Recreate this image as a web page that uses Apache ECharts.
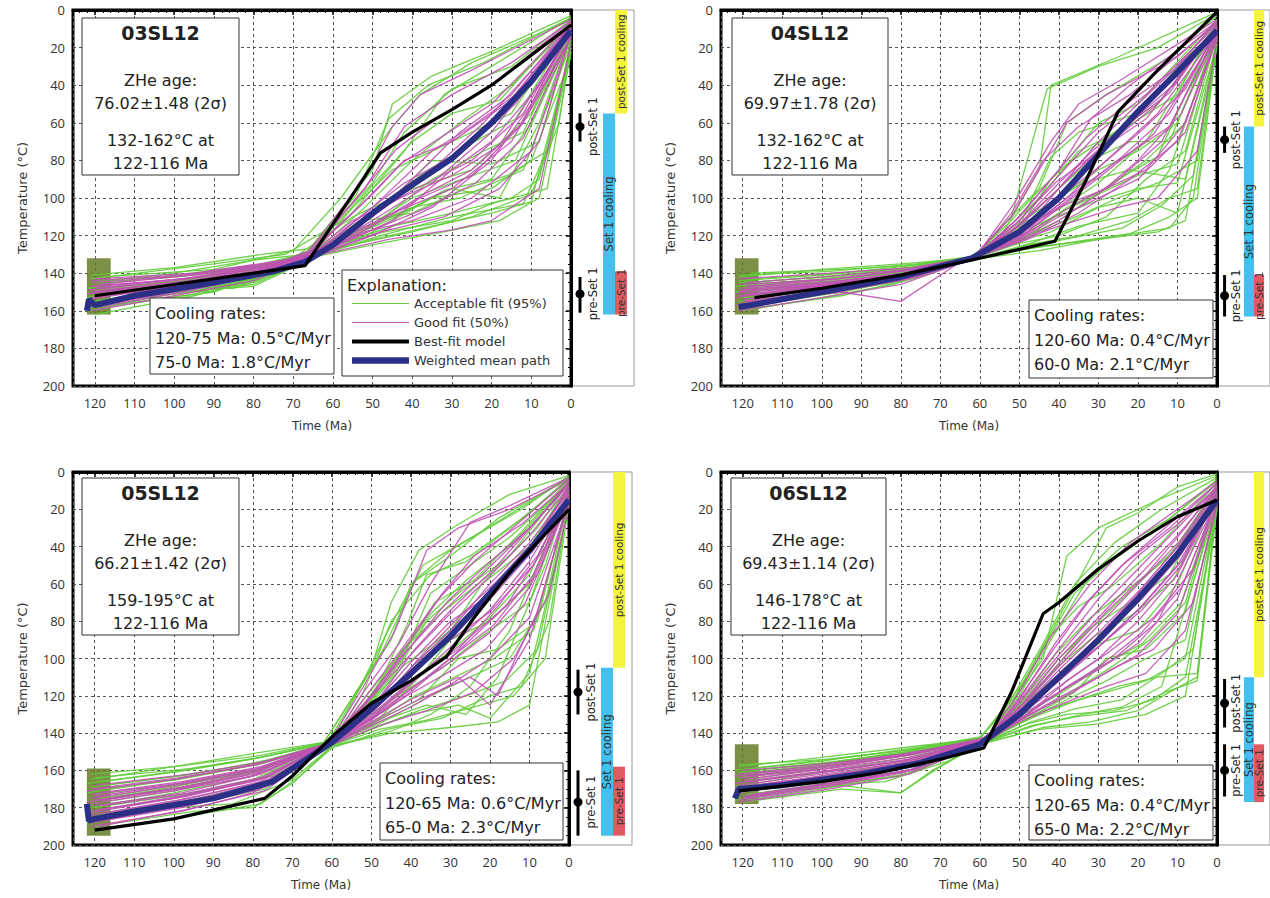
<!DOCTYPE html>
<html><head><meta charset="utf-8">
<script src="https://cdn.jsdelivr.net/npm/echarts@6/dist/echarts.min.js"></script>
<style>html,body{margin:0;padding:0;background:#fff}#c{width:1270px;height:898px}</style>
</head><body><div id="c"></div>
<script>
// ---------- axis ticks ----------
const timeTicks = [0,10,20,30,40,50,60,70,80,90,100,110,120];
const tempTicks = [0,20,40,60,80,100,120,140,160,180,200];
const timeMax = 125.5;

// ---------- panel texts ----------
const sampleNames = ['03SL12','04SL12','05SL12','06SL12'];
const zheAges = ['76.02±1.48 (2σ)','69.97±1.78 (2σ)','66.21±1.42 (2σ)','69.43±1.14 (2σ)'];
const constraintTemps = ['132-162°C at','132-162°C at','159-195°C at','146-178°C at'];
const constraintTimes = ['122-116 Ma','122-116 Ma','122-116 Ma','122-116 Ma'];
const coolingEarly = ['120-75 Ma: 0.5°C/Myr','120-60 Ma: 0.4°C/Myr','120-65 Ma: 0.6°C/Myr','120-65 Ma: 0.4°C/Myr'];
const coolingLate = ['75-0 Ma: 1.8°C/Myr','60-0 Ma: 2.1°C/Myr','65-0 Ma: 2.3°C/Myr','65-0 Ma: 2.2°C/Myr'];
const legendNames = ['Acceptable fit (95%)','Good fit (50%)','Best-fit model','Weighted mean path'];

// ---------- constraint boxes [tOld, tYoung, Tlow, Thigh] ----------
const box03 = [122,116,132,162];
const box04 = [122,116,132,162];
const box05 = [122,116,159,195];
const box06 = [122,116,146,178];

// ---------- 03SL12 ----------
const acc03 = [
 [[121,145],[100,140],[80,133],[67,130],[50,85],[45,50],[35,35],[20,22],[0,3]],
 [[120,158],[90,150],[75,138],[66,130],[45,115],[30,108],[15,100],[8,90],[0,18]],
 [[119,150],[95,143],[70,132],[55,110],[40,95],[25,85],[10,55],[0,10]],
 [[121,160],[100,150],[80,147],[65,132],[50,118],[35,100],[20,95],[10,80],[0,25]],
 [[118,142],[90,138],[70,128],[58,100],[45,62],[38,45],[25,28],[0,5]],
 [[120,152],[105,147],[85,148],[68,133],[48,120],[30,110],[12,103],[5,70],[0,15]],
 [[122,148],[100,145],[80,140],[64,128],[52,105],[40,80],[28,60],[15,40],[0,8]],
 [[117,155],[95,147],[75,135],[62,125],[45,110],[30,95],[18,100],[8,60],[0,12]],
 [[121,143],[90,135],[72,130],[56,110],[42,75],[32,45],[20,30],[0,4]],
 [[120,162],[95,152],[78,142],[65,131],[50,122],[35,115],[20,108],[10,102],[0,20]],
 [[119,146],[100,141],[80,136],[66,129],[53,100],[40,70],[30,55],[18,48],[0,6]],
 [[121,157],[100,149],[82,146],[67,134],[50,115],[35,90],[22,75],[12,65],[0,12]],
 [[118,150],[95,145],[75,138],[63,127],[47,118],[30,112],[20,103],[6,95],[0,22]],
 [[122,153],[105,146],[85,140],[65,130],[55,105],[45,85],[30,70],[15,55],[0,8]],
 [[120,147],[90,150],[70,135],[60,122],[45,100],[35,80],[20,82],[8,70],[0,14]],
 [[121,141],[100,137],[78,130],[66,127],[50,92],[42,65],[30,42],[15,30],[0,5]],
 [[119,159],[95,151],[72,137],[62,128],[40,118],[25,110],[10,98],[3,60],[0,16]],
 [[120,155],[100,148],[80,145],[68,135],[55,118],[40,105],[28,100],[12,85],[0,18]],
 [[120,149],[98,144],[76,136],[66,131],[50,108],[38,88],[26,72],[14,58],[0,9]],
 [[121,156],[96,150],[74,140],[65,132],[52,112],[40,108],[28,96],[16,88],[6,75],[0,20]],
 [[119,144],[97,141],[77,135],[67,130],[54,98],[46,58],[36,40],[22,28],[0,4]],
 [[122,159],[100,151],[80,146],[64,131],[48,124],[32,118],[18,112],[8,100],[0,22]],
 [[118,152],[94,146],[73,137],[66,130],[51,115],[40,100],[30,92],[14,80],[0,14]],
 [[120,145],[99,142],[79,137],[67,132],[55,120],[44,110],[32,96],[20,90],[10,60],[0,10]]
];
const good03 = [
 [[121,150],[100,145],[80,139],[66,131],[50,112],[35,92],[20,65],[0,10]],
 [[120,156],[95,148],[75,137],[65,129],[45,108],[30,95],[15,70],[0,14]],
 [[119,146],[100,142],[80,136],[67,131],[52,95],[42,62],[30,45],[15,28],[0,6]],
 [[121,158],[100,150],[78,140],[64,130],[48,118],[32,110],[18,95],[8,70],[0,12]],
 [[120,143],[95,140],[72,133],[66,128],[52,90],[45,62],[38,45],[25,32],[0,5]],
 [[122,154],[100,147],[82,142],[67,133],[50,120],[35,105],[20,80],[10,50],[0,10]],
 [[118,149],[95,144],[75,138],[63,128],[47,105],[35,85],[22,60],[0,9]],
 [[121,160],[100,152],[80,144],[66,132],[50,115],[38,100],[25,88],[12,60],[0,15]],
 [[120,148],[90,141],[70,133],[62,126],[50,110],[40,90],[28,65],[15,45],[0,7]],
 [[119,152],[98,146],[78,139],[65,130],[52,118],[40,112],[25,100],[10,75],[0,13]],
 [[121,145],[95,141],[75,135],[66,129],[50,98],[42,80],[30,70],[15,48],[0,8]],
 [[120,157],[100,149],[80,141],[64,130],[45,112],[30,85],[20,70],[8,40],[0,11]],
 [[122,151],[100,146],[78,137],[67,132],[55,115],[40,96],[25,80],[12,55],[0,10]],
 [[118,155],[96,148],[76,140],[65,131],[46,122],[30,117],[20,112],[8,95],[0,18]],
 [[121,147],[98,143],[72,134],[63,127],[50,105],[35,75],[25,62],[12,42],[0,7]],
 [[120,150],[95,145],[78,138],[66,130],[55,112],[43,100],[30,88],[18,72],[0,12]],
 [[121,153],[99,147],[79,139],[66,131],[50,110],[38,90],[26,72],[14,50],[0,9]],
 [[120,147],[97,143],[77,137],[65,130],[52,108],[42,92],[30,78],[18,55],[0,8]],
 [[119,158],[98,150],[78,141],[66,132],[50,117],[36,105],[24,92],[12,68],[0,14]],
 [[122,149],[100,144],[80,138],[67,132],[53,104],[43,82],[33,68],[20,50],[0,7]],
 [[118,151],[96,145],[76,138],[64,129],[49,113],[37,98],[25,85],[13,62],[0,11]],
 [[121,144],[98,141],[78,136],[66,130],[54,100],[44,74],[34,58],[20,40],[0,6]]
];
const best03 = [[120,152],[100,146],[80,140],[67,136],[48,76],[40,65],[30,53],[20,40],[10,24],[0,8]];
const mean03 = [[122,160],[121.5,154],[120,157],[110,152],[90,145],[75,139],[67,134],[60,125],[50,108],[40,93],[30,79],[20,60],[10,38],[0,11]];
const marks03 = [[62,55,70,'post-Set 1'],[151,142,161,'pre-Set 1']];
const bars03 = [[0,55,'post-Set 1 cooling'],[55,162,'Set 1 cooling'],[139,162,'pre-Set 1']];

// ---------- 04SL12 ----------
const acc04 = [
 [[121,142],[100,138],[80,135],[62,132],[52,110],[43,42],[30,30],[15,20],[0,2]],
 [[120,158],[95,150],[75,140],[63,133],[45,126],[30,122],[15,118],[8,112],[0,18]],
 [[119,150],[90,145],[70,137],[60,130],[50,118],[40,100],[30,85],[20,75],[10,60],[0,10]],
 [[121,155],[100,148],[80,143],[62,133],[48,125],[35,120],[22,112],[12,100],[5,95],[0,15]],
 [[118,145],[95,141],[72,136],[61,131],[53,112],[45,95],[38,60],[28,45],[12,25],[0,3]],
 [[120,160],[100,153],[82,146],[64,134],[50,124],[38,105],[28,95],[18,80],[8,60],[0,12]],
 [[122,147],[100,143],[78,138],[62,132],[48,120],[40,112],[25,90],[15,78],[0,8]],
 [[117,152],[95,147],[75,139],[60,131],[50,123],[42,118],[30,105],[20,100],[10,108],[0,20]],
 [[121,141],[98,139],[76,135],[62,131],[55,120],[45,100],[35,75],[25,65],[10,45],[0,5]],
 [[120,156],[95,150],[75,141],[63,133],[45,128],[25,120],[12,116],[6,100],[0,16]],
 [[119,148],[95,144],[75,138],[61,131],[52,118],[40,95],[32,80],[22,70],[12,70],[0,9]],
 [[121,153],[100,147],[80,142],[62,132],[50,122],[38,112],[25,100],[15,92],[5,80],[0,14]],
 [[118,140],[95,138],[78,136],[63,132],[50,115],[42,78],[35,65],[20,55],[0,6]],
 [[120,150],[100,146],[80,141],[62,133],[47,124],[35,115],[20,108],[12,85],[0,10]],
 [[122,157],[100,151],[82,145],[64,134],[52,125],[40,120],[28,110],[18,90],[8,75],[0,13]],
 [[121,144],[100,141],[78,137],[61,131],[50,116],[42,90],[30,60],[20,50],[0,5]],
 [[119,159],[95,152],[75,142],[63,133],[48,127],[35,123],[22,119],[12,110],[5,100],[0,18]],
 [[120,146],[96,143],[76,138],[62,132],[54,118],[45,85],[42,40],[25,25],[0,1]],
 [[120,153],[97,148],[77,140],[62,132],[50,121],[40,108],[30,98],[20,88],[10,82],[0,12]],
 [[121,145],[98,142],[78,137],[61,131],[52,116],[44,105],[34,92],[22,85],[8,90],[0,16]],
 [[119,157],[96,150],[76,141],[63,133],[48,126],[36,121],[24,116],[14,104],[6,88],[0,14]],
 [[122,150],[99,145],[79,140],[62,132],[53,114],[46,98],[38,82],[28,68],[14,48],[0,7]],
 [[118,143],[96,140],[77,136],[61,131],[51,119],[41,110],[31,102],[20,95],[10,92],[0,18]],
 [[120,148],[98,144],[78,139],[62,132],[55,122],[48,112],[40,106],[30,92],[18,70],[0,9]]
];
const good04 = [
 [[121,150],[100,146],[80,141],[62,132],[50,115],[40,95],[30,70],[20,50],[0,10]],
 [[120,156],[95,150],[80,155],[65,134],[50,120],[38,100],[28,80],[15,55],[0,12]],
 [[119,145],[100,142],[78,138],[61,131],[52,105],[42,70],[35,50],[25,38],[0,5]],
 [[121,158],[100,151],[78,143],[63,133],[48,122],[35,108],[22,90],[10,70],[0,15]],
 [[120,148],[95,144],[75,139],[62,132],[52,110],[45,85],[38,60],[28,45],[10,25],[0,6]],
 [[122,153],[100,147],[80,142],[62,133],[50,118],[40,105],[28,95],[18,85],[8,60],[0,14]],
 [[118,147],[96,143],[76,138],[61,131],[50,112],[40,88],[30,65],[18,45],[0,8]],
 [[121,160],[100,153],[80,146],[64,134],[52,124],[40,115],[25,105],[15,100],[5,75],[0,16]],
 [[120,152],[98,146],[78,140],[62,132],[48,115],[38,90],[28,72],[15,50],[0,9]],
 [[119,155],[96,149],[76,141],[63,133],[50,120],[38,100],[25,80],[12,62],[0,12]],
 [[121,143],[98,140],[77,137],[61,131],[52,108],[44,80],[35,62],[22,45],[0,7]],
 [[120,149],[95,145],[78,142],[62,132],[48,118],[36,98],[24,78],[12,55],[0,11]],
 [[122,157],[100,150],[80,144],[64,133],[50,122],[40,110],[30,100],[20,90],[8,65],[0,14]],
 [[118,151],[96,146],[76,139],[62,132],[51,114],[41,92],[30,75],[18,58],[0,10]],
 [[121,146],[97,143],[76,138],[61,131],[50,110],[40,85],[32,58],[22,40],[0,6]],
 [[120,154],[98,148],[78,141],[63,133],[49,120],[38,106],[26,92],[14,70],[0,13]],
 [[121,149],[99,145],[79,140],[62,132],[51,116],[41,97],[31,76],[21,58],[10,38],[0,9]],
 [[120,155],[97,149],[77,141],[63,133],[50,121],[39,104],[28,86],[16,66],[0,12]],
 [[119,147],[97,143],[77,138],[61,131],[51,112],[42,90],[33,68],[23,50],[11,32],[0,6]],
 [[122,151],[99,146],[79,140],[62,132],[49,117],[39,98],[29,82],[19,64],[8,42],[0,10]],
 [[118,156],[96,150],[76,142],[63,133],[50,123],[40,112],[30,98],[20,80],[9,55],[0,13]],
 [[121,152],[98,147],[78,141],[62,132],[50,114],[40,92],[31,74],[22,60],[12,44],[0,8]]
];
const best04 = [[117,153],[100,148],[80,141],[62,133],[41,123],[33,90],[25,54],[15,32],[0,1]];
const mean04 = [[121,158],[118,157],[100,150],[80,142],[62,132],[50,118],[40,100],[30,77],[20,54],[10,33],[0,11]];
const marks04 = [[69,62,76,'post-Set 1'],[152,141,163,'pre-Set 1']];
const bars04 = [[0,62,'post-Set 1 cooling'],[62,163,'Set 1 cooling'],[141,163,'pre-Set 1']];

// ---------- 05SL12 ----------
const acc05 = [
 [[121,165],[100,158],[80,151],[62,145],[50,105],[45,70],[38,42],[28,28],[15,12],[0,2]],
 [[120,190],[95,182],[80,180],[70,167],[60,147],[45,140],[30,137],[18,134],[10,125],[0,15]],
 [[119,175],[100,168],[78,160],[61,146],[52,125],[42,95],[32,75],[20,55],[8,30],[0,5]],
 [[121,182],[100,175],[80,165],[62,147],[48,135],[35,120],[25,110],[15,100],[6,70],[0,12]],
 [[118,168],[95,162],[75,154],[60,145],[52,118],[45,80],[35,55],[25,45],[12,25],[0,4]],
 [[120,185],[98,178],[78,168],[62,148],[50,138],[40,130],[28,125],[20,132],[10,108],[0,18]],
 [[122,172],[100,165],[80,157],[60,145],[50,122],[42,100],[35,65],[25,50],[15,35],[0,6]],
 [[117,178],[95,172],[75,163],[61,147],[48,132],[38,110],[30,90],[20,80],[10,60],[0,10]],
 [[121,162],[100,158],[78,152],[62,145],[52,112],[45,90],[40,60],[30,45],[18,25],[0,3]],
 [[120,192],[95,184],[78,178],[68,163],[60,148],[46,138],[32,132],[20,120],[12,115],[5,80],[0,14]],
 [[119,170],[97,164],[77,156],[61,146],[50,128],[40,105],[30,85],[22,60],[10,40],[0,7]],
 [[121,180],[100,172],[80,163],[62,147],[50,135],[38,122],[28,100],[18,95],[8,80],[0,12]],
 [[118,166],[98,160],[78,153],[60,145],[54,120],[47,95],[37,50],[27,38],[12,20],[0,2]],
 [[120,176],[100,169],[80,160],[61,146],[50,130],[42,118],[32,105],[22,88],[10,70],[0,9]],
 [[122,188],[100,180],[85,178],[70,165],[60,147],[45,139],[35,130],[25,115],[15,85],[0,11]],
 [[121,169],[99,163],[79,156],[62,146],[51,125],[44,108],[36,80],[28,65],[15,45],[0,5]],
 [[119,184],[96,177],[76,166],[61,147],[49,137],[38,128],[26,120],[16,112],[8,95],[0,16]],
 [[120,173],[98,167],[78,159],[60,145],[52,122],[40,90],[34,70],[24,58],[12,32],[0,4]],
 [[121,178],[100,171],[80,161],[62,146],[47,133],[36,125],[26,130],[18,110],[6,50],[0,8]],
 [[120,164],[96,159],[78,153],[61,145],[49,118],[41,82],[36,55],[26,48],[10,22],[0,3]],
 [[120,180],[98,173],[78,164],[61,147],[50,132],[40,112],[30,96],[20,78],[10,55],[0,10]],
 [[121,171],[99,165],[79,157],[60,145],[51,126],[43,100],[35,76],[26,58],[14,38],[0,5]],
 [[119,186],[97,179],[77,170],[62,148],[48,138],[36,133],[24,126],[14,120],[6,100],[0,17]],
 [[122,167],[100,161],[80,154],[61,145],[53,116],[46,86],[39,58],[30,42],[16,24],[0,3]],
 [[118,183],[96,176],[76,166],[61,147],[49,134],[39,120],[29,110],[19,100],[9,85],[0,13]],
 [[120,176],[98,169],[78,160],[60,145],[50,124],[42,104],[33,90],[23,72],[11,45],[0,7]]
];
const good05 = [
 [[121,178],[100,171],[80,163],[61,146],[50,128],[40,105],[30,85],[20,60],[10,38],[0,10]],
 [[120,186],[98,178],[78,168],[62,147],[50,133],[40,118],[30,100],[20,80],[8,55],[0,14]],
 [[119,172],[98,166],[78,158],[60,145],[50,120],[40,90],[32,65],[24,45],[12,28],[0,6]],
 [[121,190],[98,182],[80,172],[62,148],[50,135],[38,122],[25,110],[18,120],[8,75],[0,16]],
 [[120,168],[96,162],[76,155],[61,146],[52,115],[44,85],[36,42],[28,30],[15,20],[0,4]],
 [[122,183],[100,175],[78,165],[62,147],[50,130],[40,112],[28,95],[18,72],[8,45],[0,12]],
 [[118,176],[96,169],[76,160],[60,145],[48,125],[38,100],[28,78],[18,58],[8,35],[0,8]],
 [[121,188],[98,180],[78,170],[62,148],[48,136],[36,128],[24,118],[14,100],[5,65],[0,18]],
 [[120,174],[98,167],[78,159],[61,146],[51,122],[42,98],[32,75],[22,55],[10,30],[0,7]],
 [[119,181],[97,174],[77,164],[62,147],[49,131],[39,115],[29,98],[19,82],[9,55],[0,13]],
 [[121,170],[99,164],[79,157],[60,145],[52,118],[43,92],[35,60],[25,27],[15,18],[0,3]],
 [[120,185],[98,177],[78,167],[61,147],[50,134],[40,122],[28,110],[20,125],[10,90],[0,15]],
 [[122,177],[100,170],[80,162],[62,146],[50,126],[40,102],[30,80],[20,66],[10,42],[0,9]],
 [[118,183],[96,175],[76,165],[61,147],[49,130],[38,110],[27,92],[16,72],[6,40],[0,11]],
 [[121,173],[99,167],[79,159],[60,145],[50,121],[41,96],[31,70],[21,50],[10,30],[0,6]],
 [[120,179],[98,172],[78,162],[62,146],[50,129],[40,108],[30,90],[20,75],[9,50],[0,12]],
 [[119,187],[97,179],[77,169],[61,147],[51,134],[41,120],[31,108],[21,95],[11,70],[0,15]],
 [[121,175],[99,168],[79,160],[61,146],[49,124],[39,95],[29,72],[19,52],[9,28],[0,5]],
 [[121,182],[99,174],[79,165],[62,147],[50,131],[40,113],[30,94],[20,74],[10,48],[0,12]],
 [[120,176],[98,169],[78,160],[61,146],[51,123],[41,100],[31,78],[21,58],[10,34],[0,8]],
 [[119,190],[97,181],[77,171],[62,148],[50,136],[40,126],[30,114],[20,100],[10,78],[0,16]],
 [[122,171],[100,165],[80,157],[60,145],[51,119],[42,94],[33,68],[24,48],[12,26],[0,4]],
 [[118,179],[96,172],[76,163],[61,146],[49,127],[39,106],[29,86],[19,66],[9,42],[0,10]],
 [[121,184],[99,176],[79,167],[62,147],[50,132],[40,116],[30,102],[20,86],[10,62],[0,14]]
];
const best05 = [[120,192],[100,186],[77,175],[70,163],[60,142],[50,124],[40,112],[31,99],[24,78],[14,51],[0,20]];
const mean05 = [[122,178],[121.5,187],[120,186],[110,182],[90,175],[75,166],[60,145],[50,127],[40,108],[30,88],[20,65],[10,42],[0,15]];
const marks05 = [[118,106,130,'post-Set 1'],[177,160,195,'pre-Set 1']];
const bars05 = [[0,105,'post-Set 1 cooling'],[105,195,'Set 1 cooling'],[158,195,'pre-Set 1']];

// ---------- 06SL12 ----------
const acc06 = [
 [[121,158],[100,153],[80,148],[60,143],[48,110],[38,70],[28,30],[20,22],[10,8],[0,1]],
 [[120,177],[95,170],[80,172],[72,160],[60,146],[45,138],[30,135],[18,130],[8,120],[0,18]],
 [[119,165],[98,158],[78,152],[59,144],[50,125],[40,100],[30,80],[20,60],[10,40],[0,8]],
 [[121,172],[100,165],[80,158],[60,145],[47,132],[35,122],[25,115],[15,110],[5,108],[0,15]],
 [[118,160],[96,155],[76,150],[58,142],[50,120],[42,90],[32,55],[24,40],[12,25],[0,4]],
 [[120,175],[100,168],[80,163],[61,147],[48,135],[38,130],[26,128],[16,122],[8,110],[0,20]],
 [[122,163],[100,157],[80,151],[59,143],[48,122],[40,110],[30,92],[20,85],[10,60],[0,10]],
 [[117,168],[95,162],[75,156],[58,144],[46,130],[36,118],[28,100],[18,95],[8,75],[0,12]],
 [[121,157],[98,154],[78,149],[60,142],[52,125],[44,95],[36,65],[28,50],[15,30],[0,5]],
 [[120,174],[95,168],[80,172],[70,158],[60,146],[44,137],[32,134],[20,128],[12,118],[5,110],[0,16]],
 [[119,162],[97,157],[77,151],[59,143],[49,126],[41,105],[33,85],[22,70],[12,55],[0,9]],
 [[121,170],[100,163],[80,156],[60,145],[48,133],[38,122],[28,112],[18,100],[8,90],[0,14]],
 [[118,159],[98,154],[78,149],[58,142],[50,118],[44,100],[38,45],[30,30],[15,15],[0,2]],
 [[120,168],[100,161],[80,155],[61,146],[47,130],[37,118],[27,105],[17,90],[8,70],[0,11]],
 [[122,176],[100,168],[84,166],[68,155],[59,145],[46,136],[34,130],[24,126],[14,115],[0,17]],
 [[121,161],[99,156],[79,150],[60,143],[51,120],[43,90],[35,72],[27,62],[15,40],[0,6]],
 [[119,173],[96,166],[76,159],[60,146],[47,134],[36,127],[24,122],[14,108],[6,95],[0,13]],
 [[120,166],[98,160],[78,153],[59,144],[50,128],[42,112],[34,100],[25,78],[12,50],[0,7]],
 [[120,171],[98,164],[78,157],[60,145],[49,130],[39,118],[29,104],[19,92],[9,70],[0,12]],
 [[121,164],[99,158],[79,152],[59,143],[50,124],[41,98],[32,78],[22,62],[12,45],[0,8]],
 [[119,176],[97,169],[77,161],[61,147],[47,136],[35,131],[23,128],[13,118],[5,112],[0,19]],
 [[122,160],[100,155],[80,149],[58,142],[51,118],[44,92],[36,60],[26,38],[14,20],[0,3]],
 [[118,170],[96,163],[76,157],[60,145],[48,131],[38,124],[28,118],[18,112],[8,100],[0,16]],
 [[120,162],[98,156],[78,150],[59,143],[49,123],[40,104],[31,88],[21,76],[11,58],[0,9]]
];
const good06 = [
 [[121,168],[100,162],[80,156],[60,145],[50,128],[40,110],[30,88],[20,65],[10,40],[0,12]],
 [[120,175],[98,168],[78,160],[59,146],[48,130],[38,115],[26,100],[15,80],[0,15]],
 [[119,163],[98,158],[78,152],[58,143],[49,120],[40,95],[30,68],[20,45],[10,28],[0,8]],
 [[121,172],[100,165],[80,158],[60,146],[49,132],[38,120],[26,105],[16,95],[6,70],[0,16]],
 [[120,160],[97,156],[77,151],[58,142],[50,118],[42,88],[32,60],[22,38],[10,20],[0,5]],
 [[122,170],[100,163],[80,157],[60,145],[50,130],[40,115],[30,100],[20,80],[10,55],[0,13]],
 [[118,166],[96,160],[76,154],[59,144],[49,124],[40,100],[30,78],[20,56],[10,34],[0,9]],
 [[121,177],[98,170],[78,162],[61,147],[50,134],[40,125],[28,115],[18,108],[8,85],[0,18]],
 [[120,165],[98,159],[78,153],[59,144],[48,122],[38,98],[28,75],[18,55],[8,30],[0,7]],
 [[119,171],[97,164],[77,157],[60,145],[49,128],[39,108],[29,92],[19,72],[9,48],[0,12]],
 [[121,162],[99,157],[79,151],[58,143],[50,122],[41,92],[33,70],[24,50],[12,30],[0,6]],
 [[120,174],[98,167],[78,160],[61,146],[50,131],[40,118],[30,106],[20,92],[10,68],[0,14]],
 [[122,167],[100,161],[80,155],[60,144],[49,126],[39,104],[29,84],[19,62],[9,38],[0,10]],
 [[118,173],[96,166],[76,159],[60,146],[48,130],[38,112],[27,96],[16,78],[6,52],[0,13]],
 [[121,164],[99,159],[79,152],[59,144],[50,124],[40,98],[30,74],[20,52],[10,30],[0,8]],
 [[120,169],[98,163],[78,156],[60,145],[49,127],[39,106],[29,88],[19,68],[9,44],[0,11]],
 [[121,170],[99,164],[79,157],[60,145],[50,129],[40,112],[30,94],[20,74],[10,50],[0,13]],
 [[120,166],[98,160],[78,154],[59,144],[49,125],[39,102],[29,80],[19,58],[9,36],[0,9]],
 [[119,174],[97,167],[77,160],[61,146],[49,131],[39,117],[29,103],[19,86],[9,62],[0,15]],
 [[122,163],[100,158],[80,152],[58,143],[50,121],[41,94],[32,68],[23,48],[11,26],[0,6]],
 [[118,168],[96,162],[76,155],[60,145],[49,128],[39,110],[29,92],[19,74],[9,50],[0,11]],
 [[121,176],[99,169],[79,161],[61,147],[50,133],[40,121],[30,110],[20,98],[10,76],[0,17]]
];
const best06 = [[121,171],[100,166],[85,161],[70,154],[59,148],[52,118],[44,76],[40,70],[30,52],[20,37],[10,24],[0,15]];
const mean06 = [[122,175],[121,170],[110,168],[90,162],[75,156],[60,146],[50,130],[40,110],[30,90],[20,68],[10,44],[0,15]];
const marks06 = [[124,111,137,'post-Set 1'],[160,146,174,'pre-Set 1']];
const bars06 = [[0,110,'post-Set 1 cooling'],[110,177,'Set 1 cooling'],[146,177,'pre-Set 1']];

// ---------- layout / styles ----------
const FONT = 'DejaVu Sans';
const GREEN = '#62cc3a', MAGENTA = '#c052b2', NAVY = '#2c2f86', BLACK = '#000';
const BOXFILL = 'rgba(100,124,36,0.85)';
const panels = [
  {grid:{left:73,top:10,width:498,height:376}, strip:{left:571,top:10,width:63,height:376},
   title:[82,18,157,157], cool:[150,298,184,76],
   acc:acc03, good:good03, best:best03, mean:mean03, box:box03, marks:marks03, bars:bars03},
  {grid:{left:721,top:10,width:496,height:376}, strip:{left:1217,top:10,width:63,height:376},
   title:[732,18,156,157], cool:[1029,300,184,78],
   acc:acc04, good:good04, best:best04, mean:mean04, box:box04, marks:marks04, bars:bars04},
  {grid:{left:73,top:472,width:496,height:373}, strip:{left:569,top:472,width:63,height:373},
   title:[82,478,157,157], cool:[380,763,183,77],
   acc:acc05, good:good05, best:best05, mean:mean05, box:box05, marks:marks05, bars:bars05},
  {grid:{left:721,top:472,width:496,height:373}, strip:{left:1217,top:472,width:63,height:373},
   title:[731,478,155,157], cool:[1029,765,184,75],
   acc:acc06, good:good06, best:best06, mean:mean06, box:box06, marks:marks06, bars:bars06}
];
const stripCols = {
  'post-Set 1 cooling': {x0:44, x1:56, color:'#f4f43c', font:10.5},
  'Set 1 cooling': {x0:32, x1:44, color:'#45c0ee', font:11.5},
  'pre-Set 1': {x0:44, x1:56, color:'#e05a62', font:10.5}
};
const markX = 9, markLabelX = 22;

const grids = [], xAxes = [], yAxes = [], series = [], graphics = [];

function lineSeries(paths, gi, name, color, width, opacity, z) {
  return paths.map(p => ({
    type:'line', name, xAxisIndex:gi, yAxisIndex:gi, data:p,
    symbol:'none', showSymbol:false, silent:true, animation:false, z,
    lineStyle:{color, width, opacity}, itemStyle:{color}, emphasis:{disabled:true}
  }));
}

panels.forEach((p, i) => {
  grids.push(Object.assign({show:true, borderColor:'#000', borderWidth:3, backgroundColor:'#fff'}, p.grid));
  xAxes.push({
    gridIndex:i, type:'value', inverse:true, min:timeTicks[0], max:timeMax,
    interval:timeTicks[1]-timeTicks[0],
    name:'Time (Ma)', nameLocation:'middle', nameGap:34,
    nameTextStyle:{fontFamily:FONT, fontSize:12, color:'#333'},
    axisLine:{show:true, lineStyle:{color:'#000', width:3}},
    axisTick:{show:true, length:5, lineStyle:{color:'#000', width:1.5}},
    minorTick:{show:true, splitNumber:5, length:3, lineStyle:{color:'#000'}},
    axisLabel:{showMaxLabel:false, margin:10, fontFamily:'Open Sans', fontSize:13, color:'#333',
      formatter:v => timeTicks.indexOf(v) >= 0 ? String(v) : ''},
    splitLine:{show:true, lineStyle:{color:'#555', type:[3,3], width:1}}
  });
  yAxes.push({
    gridIndex:i, type:'value', inverse:true, min:tempTicks[0], max:tempTicks[tempTicks.length-1],
    interval:tempTicks[1]-tempTicks[0],
    name:'Temperature (°C)', nameLocation:'middle', nameGap:44, nameRotate:90,
    nameTextStyle:{fontFamily:FONT, fontSize:13, color:'#333'},
    axisLine:{show:true, lineStyle:{color:'#000', width:3}},
    axisTick:{show:true, length:5, lineStyle:{color:'#000', width:1.5}},
    minorTick:{show:true, splitNumber:4, length:3, lineStyle:{color:'#000'}},
    axisLabel:{margin:8, fontFamily:'Open Sans', fontSize:13, color:'#333',
      formatter:v => tempTicks.indexOf(v) >= 0 ? String(v) : ''},
    splitLine:{show:true, lineStyle:{color:'#555', type:[3,3], width:1}}
  });
});
panels.forEach((p, i) => {
  const gi = 4 + i;
  grids.push(Object.assign({show:true, borderColor:'#9a9a9a', borderWidth:1, backgroundColor:'transparent'}, p.strip));
  xAxes.push({gridIndex:gi, type:'value', min:0, max:63, show:false});
  yAxes.push({gridIndex:gi, type:'value', inverse:true, min:0, max:200, show:false});
});

panels.forEach((p, i) => {
  series.push(...lineSeries(p.acc, i, legendNames[0], GREEN, 1.3, 0.9, 2));
  series.push(...lineSeries(p.good, i, legendNames[1], MAGENTA, 1.3, 0.9, 2));
  series.push({
    type:'line', xAxisIndex:i, yAxisIndex:i, data:[], silent:true, animation:false, z:3,
    markArea:{silent:true, itemStyle:{color:BOXFILL},
      data:[[{coord:[p.box[0], p.box[3]]},{coord:[p.box[1], p.box[2]]}]]}
  });
  series.push(...lineSeries([p.mean], i, legendNames[3], NAVY, 6, 1, 4));
  series.push(...lineSeries([p.best], i, legendNames[2], BLACK, 3.2, 1, 5));

  const gi = 4 + i;
  const bars = p.bars;
  series.push({
    type:'custom', xAxisIndex:gi, yAxisIndex:gi, silent:true, animation:false, z:5,
    data: bars.map(b => [0, b[0], b[1]]), encode:{x:0, y:[1,2]},
    renderItem(params, api) {
      const kind = bars[params.dataIndex][2];
      const c = stripCols[kind];
      const a = api.coord([c.x0, api.value(1)]);
      const b = api.coord([c.x1, api.value(2)]);
      return {type:'group', children:[
        {type:'rect', shape:{x:a[0], y:a[1], width:b[0]-a[0], height:b[1]-a[1]}, style:{fill:c.color}},
        {type:'text', x:(a[0]+b[0])/2, y:(a[1]+b[1])/2, rotation:Math.PI/2,
         style:{text:kind, font:c.font+'px "'+FONT+'"', fill:'#333', align:'center', verticalAlign:'middle'}}
      ]};
    }
  });
  const marks = p.marks;
  series.push({
    type:'custom', xAxisIndex:gi, yAxisIndex:gi, silent:true, animation:false, z:6,
    data: marks.map(m => [0, m[0], m[1], m[2]]), encode:{x:0, y:[1,2,3]},
    renderItem(params, api) {
      const lbl = marks[params.dataIndex][3];
      const c = api.coord([markX, api.value(1)]);
      const lo = api.coord([markX, api.value(2)]);
      const hi = api.coord([markX, api.value(3)]);
      const l = api.coord([markLabelX, api.value(1)]);
      return {type:'group', children:[
        {type:'line', shape:{x1:lo[0], y1:lo[1], x2:hi[0], y2:hi[1]}, style:{stroke:'#000', lineWidth:3}},
        {type:'circle', shape:{cx:c[0], cy:c[1], r:4.5}, style:{fill:'#000'}},
        {type:'text', x:l[0], y:l[1], rotation:Math.PI/2,
         style:{text:lbl, font:'11.5px "'+FONT+'"', fill:'#222', align:'center', verticalAlign:'middle'}}
      ]};
    }
  });

  // title box
  const t = p.title, cx = t[0] + t[2]/2;
  graphics.push({type:'rect', shape:{x:t[0], y:t[1], width:t[2], height:t[3]}, style:{fill:'#fff', stroke:'#333', lineWidth:1}, z:60});
  const tl = [[sampleNames[i],15,'bold 19px "'+FONT+'"'],['ZHe age:',62,'16px "'+FONT+'"'],[zheAges[i],85,'16px "'+FONT+'"'],
              [constraintTemps[i],122,'16px "'+FONT+'"'],[constraintTimes[i],145,'16px "'+FONT+'"']];
  tl.forEach(r => graphics.push({type:'text', x:cx, y:t[1]+r[1], z:61,
    style:{text:r[0], font:r[2], fill:'#222', align:'center', verticalAlign:'middle'}}));
  // cooling rate box
  const k = p.cool;
  graphics.push({type:'rect', shape:{x:k[0], y:k[1], width:k[2], height:k[3]}, style:{fill:'#fff', stroke:'#333', lineWidth:1}, z:60});
  [['Cooling rates:',15],[coolingEarly[i],40],[coolingLate[i],64]].forEach(r => graphics.push({type:'text', x:k[0]+5, y:k[1]+r[1], z:61,
    style:{text:r[0], font:'16px "'+FONT+'"', fill:'#222', align:'left', verticalAlign:'middle'}}));
});

// explanation box (panel 1)
graphics.push({type:'rect', shape:{x:342, y:270, width:221, height:106}, style:{fill:'#fff', stroke:'#333', lineWidth:1}, z:60});
graphics.push({type:'text', x:347, y:285, z:61, style:{text:'Explanation:', font:'16px "'+FONT+'"', fill:'#222', align:'left', verticalAlign:'middle'}});

const option = {
  animation:false,
  backgroundColor:'#fff',
  textStyle:{fontFamily:FONT},
  grid:grids, xAxis:xAxes, yAxis:yAxes, series,
  graphic:{elements:graphics},
  legend:{
    show:true, orient:'vertical', left:352, top:297, itemWidth:57, itemHeight:7, itemGap:6, padding:0,
    selectedMode:false, z:70,
    textStyle:{fontFamily:FONT, fontSize:13, color:'#333'},
    data:[
      {name:legendNames[0], icon:'path://M0,0H60V1.3H0Z', itemStyle:{color:GREEN}},
      {name:legendNames[1], icon:'path://M0,0H60V1.3H0Z', itemStyle:{color:MAGENTA}},
      {name:legendNames[2], icon:'path://M0,0H60V4H0Z', itemStyle:{color:BLACK}},
      {name:legendNames[3], icon:'path://M0,0H60V7H0Z', itemStyle:{color:NAVY}}
    ]
  }
};
const chart = echarts.init(document.getElementById('c'), null, {renderer:'svg'});
chart.setOption(option);
</script>
</body></html>
